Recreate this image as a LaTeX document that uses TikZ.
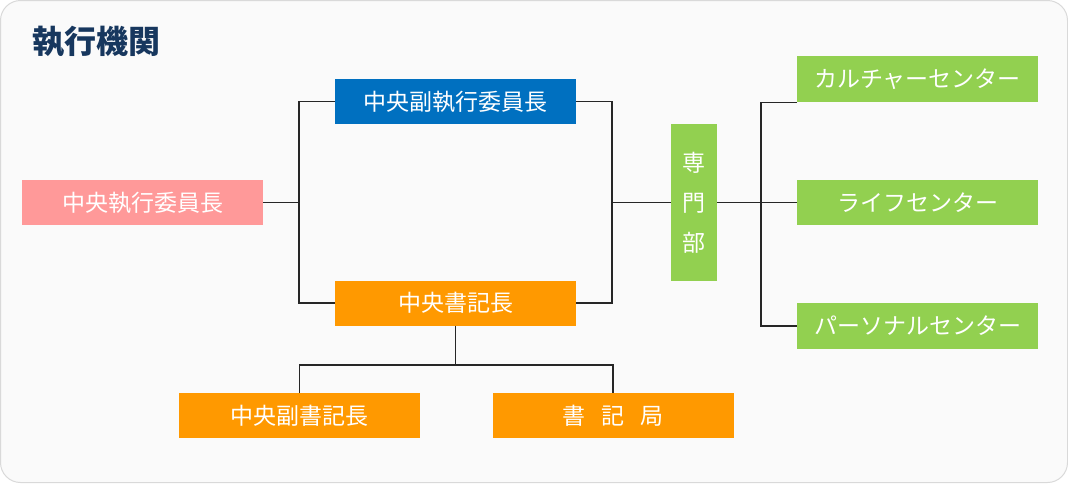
\documentclass[tikz,border=0pt]{standalone}
\usepackage{fontspec}
\setmainfont{Noto Sans CJK JP}
\usepackage{tikz}
\usetikzlibrary{positioning,calc}
\definecolor{pinkbox}{HTML}{FF9999}
\definecolor{bluebox}{HTML}{0070C0}
\definecolor{orangebox}{HTML}{FF9900}
\definecolor{greenbox}{HTML}{92D050}
\definecolor{titleblue}{HTML}{17375E}
\definecolor{panel}{HTML}{FAFAFA}

\begin{document}
\begin{tikzpicture}[x=1pt,y=-1pt,
    box/.style={minimum width=241pt, minimum height=45pt, inner sep=0pt, text=white, font=\fontsize{23}{27}\selectfont},
    link/.style={draw=black!85, line width=1.1pt}]
            \useasboundingbox (0,0) rectangle (1068,483);
            \draw[rounded corners=20pt, fill=panel, draw=black!15, line width=1pt] (0.5,0.5) rectangle (1067.5,482.5);
            \node[anchor=west, text=titleblue, font=\fontsize{32}{36}\selectfont\bfseries] (title) at (29,42) {執行機関};
            \node[box, fill=pinkbox] (ceo) at (142.5,202.5) {中央執行委員長};
            \node[box, fill=bluebox] (vice) at (455.5,101.5) {中央副執行委員長};
            \node[box, fill=orangebox] (sec) at (455.5,303) {中央書記長};
            \node[box, fill=orangebox] (vsec) at (299.5,415.5) {中央副書記長};
            \node[box, fill=orangebox] (office) at (613,415.5) {書\hspace{16pt}記\hspace{16pt}局};
            \node[box, fill=greenbox, minimum width=46pt, minimum height=157pt, align=center, font=\fontsize{23}{40}\selectfont] (dept) at (694,202.5) {専\\門\\部};
            \node[box, fill=greenbox, minimum height=46pt] (culture) at (917.5,79) {カルチャーセンター};
            \node[box, fill=greenbox] (life) at (917.5,202.5) {ライフセンター};
            \node[box, fill=greenbox, minimum height=46pt] (personal) at (917.5,326) {パーソナルセンター};
            \coordinate (lbar) at (299,202.5);
            \coordinate (rbar) at (612,202.5);
            \coordinate (tbar) at (761,202.5);
            \coordinate (bbar) at (455.5,365);
            \draw[link] (ceo.east) -- (lbar);
            \draw[link] (vice.west) -| (lbar) |- (sec.west);
            \draw[link] (vice.east) -| (rbar) |- (sec.east);
            \draw[link] (rbar) -- (dept.west);
            \draw[link] (dept.east) -- (life.west);
            \draw[link] (culture.south west) -| (tbar) |- (personal.west);
            \draw[link] (sec.south) -- (bbar);
            \draw[link] (vsec.north) |- (bbar) -| (office.north);
        \end{tikzpicture}
\end{document}
